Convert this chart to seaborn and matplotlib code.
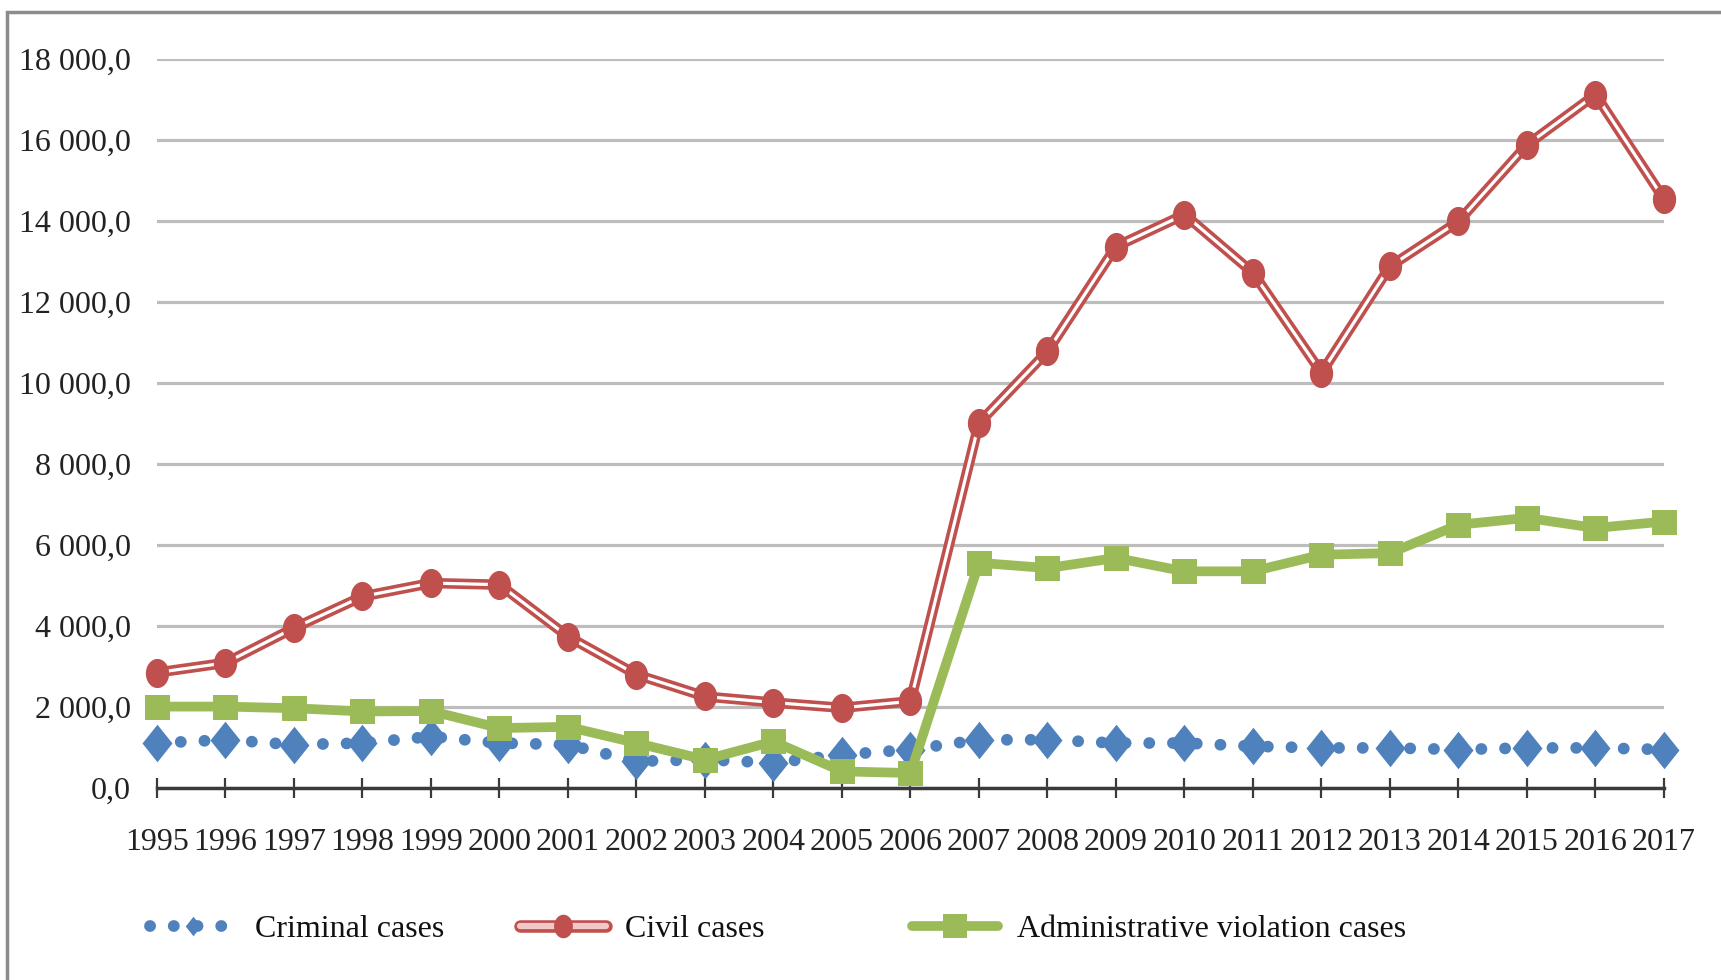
import numpy as np
import pandas as pd
import matplotlib
matplotlib.use("Agg")
import matplotlib.pyplot as plt
import matplotlib.ticker as mticker
from matplotlib.lines import Line2D
from matplotlib.patches import Rectangle
import seaborn as sns

sns.set_style("white")
plt.rcParams["font.family"] = ["Liberation Serif", "DejaVu Serif"]

# ── Données ────────────────────────────────────────────────────────────────────
years = list(range(1995, 2018))
criminal = [1110, 1190, 1070, 1110, 1270, 1110, 1070, 660, 700, 620, 820, 950,
            1190, 1190, 1110, 1110, 1030, 990, 990, 950, 990, 990, 950]
civil = [2850, 3090, 3950, 4730, 5060, 5020, 3740, 2800, 2260, 2110, 1980, 2140,
         9010, 10780, 13370, 14160, 12720, 10250, 12880, 13990, 15880, 17120, 14540]
admin = [2010, 2010, 1970, 1890, 1900, 1480, 1510, 1110, 700, 1150, 410, 370,
         5560, 5430, 5680, 5350, 5350, 5760, 5800, 6500, 6670, 6420, 6580]
labels = ["Criminal cases", "Civil cases", "Administrative violation cases"]
y_ticks = list(range(0, 18001, 2000))

df = pd.DataFrame({"Year": years, "Criminal": criminal, "Civil": civil, "Admin": admin})

BLUE, RED, GREEN = "#4F81BD", "#C0504D", "#9BBB59"
TXT = "#222222"

# formes de marqueurs (losange un peu haut, ellipse)
diamond = [(0, 1), (0.8, 0), (0, -1), (-0.8, 0), (0, 1)]
t = np.linspace(0, 2 * np.pi, 41)
ellipse = list(zip(0.8 * np.cos(t), np.sin(t)))

fig = plt.figure(figsize=(17.21, 9.80), dpi=100)
ax = fig.add_axes([157 / 1721, 1 - 788 / 980, (1664 - 157) / 1721, (788 - 59) / 980])

# Criminal : pointillés + losanges
sns.lineplot(data=df, x="Year", y="Criminal", ax=ax, color=BLUE, lw=8.5,
             linestyle=(0, (0.01, 2.0)), dash_capstyle="round",
             marker=diamond, ms=27, mec=BLUE, mew=0, clip_on=False, zorder=3)
# Civil : double trait + ronds
sns.lineplot(data=df, x="Year", y="Civil", ax=ax, color=RED, lw=7.5,
             solid_joinstyle="round", clip_on=False, zorder=4)
sns.lineplot(data=df, x="Year", y="Civil", ax=ax, color="white", lw=2.3,
             solid_joinstyle="round", marker=ellipse, ms=21, mfc=RED, mec=RED,
             mew=0, clip_on=False, zorder=4)
# Administrative : trait épais + carrés
sns.lineplot(data=df, x="Year", y="Admin", ax=ax, color=GREEN, lw=7,
             marker="s", ms=18, mec=GREEN, mew=0, clip_on=False, zorder=5)

# ── Axes ───────────────────────────────────────────────────────────────────────
ax.set_xlim(years[0], years[-1])
ax.set_ylim(y_ticks[0], y_ticks[-1])
ax.set_xticks(years)
ax.set_xticklabels([str(y) for y in years])
ax.set_yticks(y_ticks)
ax.yaxis.set_major_formatter(mticker.FuncFormatter(
    lambda v, _: f"{v:,.1f}".replace(",", " ").replace(".", ",")))
ax.set_xlabel(""); ax.set_ylabel("")
ax.grid(axis="y", color="#bdbdbd", lw=2.3)
ax.set_axisbelow(True)
for s in ["left", "right", "top"]:
    ax.spines[s].set_visible(False)
ax.spines["bottom"].set_color("#3a3a3a")
ax.spines["bottom"].set_linewidth(2.5)
ax.spines["bottom"].set_zorder(2)
ax.tick_params(axis="x", bottom=True, direction="inout", length=15, width=1.6,
               color="#3a3a3a", labelsize=23, labelcolor=TXT, pad=21)
ax.tick_params(axis="y", left=False, length=0, labelsize=23, labelcolor=TXT, pad=19)

# ── Légende (trois blocs, comme Excel) ─────────────────────────────────────────
h_crim = Line2D([], [], color=BLUE, lw=8.5, linestyle=(0, (0.01, 2.0)),
                dash_capstyle="round", marker=diamond, ms=14, mec=BLUE, mew=0)
h_civ = (Line2D([], [], color=RED, lw=9, solid_capstyle="round"),
         Line2D([], [], color="#f2c9c8", lw=4.5, solid_capstyle="round",
                marker=ellipse, ms=17, mfc=RED, mec=RED, mew=0))
h_adm = Line2D([], [], color=GREEN, lw=7, solid_capstyle="round",
               marker="s", ms=17, mec=GREEN, mew=0)
for h, lab, x0 in zip([h_crim, h_civ, h_adm], labels, [150, 520, 912]):
    leg = fig.legend(handles=[h], labels=[lab], loc="center left",
                     bbox_to_anchor=(x0 / 1721, 1 - 929 / 980), frameon=False,
                     fontsize=23, handlelength=2.7, handletextpad=0.6,
                     borderaxespad=0, borderpad=0, numpoints=1)
    for tx in leg.get_texts():
        tx.set_color("#111111")

# cadre gris extérieur
fig.patches.append(Rectangle((6.5 / 1721, -0.1), 1.2, 1.1 - 11.7 / 980,
                             transform=fig.transFigure, fill=False,
                             edgecolor="#8c8c8c", lw=2.5))

fig.savefig("out.png", dpi=100)
